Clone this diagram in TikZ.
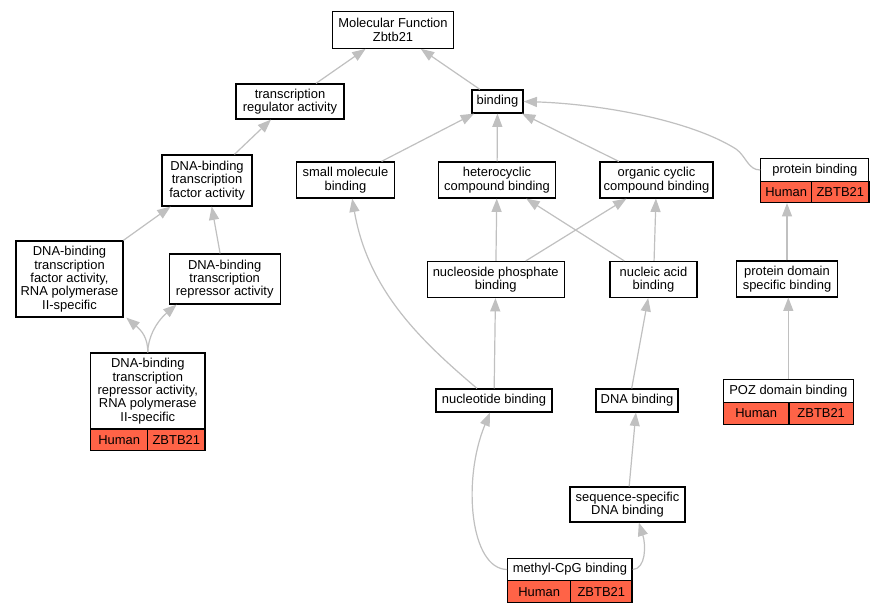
\documentclass[tikz,border=0pt]{standalone}
\usepackage{fontspec}
\setmainfont{Liberation Sans}
\usetikzlibrary{arrows.meta}
\definecolor{hum}{RGB}{255,99,71}
\definecolor{edgegray}{RGB}{192,192,192}
\newcommand\gofont{\fontsize{9.7}{10}\selectfont}
\def\px{0.75pt}
\tikzset{
  term/.style={draw, line width=0.9pt, fill=white, align=center, inner sep=0pt, font=\gofont},
  cell/.style={term, fill=hum},
  isa/.style={draw=edgegray, line width=0.9pt, -{Triangle[length=10pt,width=7.5pt]}},
}
\begin{document}
\begin{tikzpicture}[x=0.75pt, y=-0.75pt]
\useasboundingbox[fill=white] (0,0) rectangle (884,613);
% terms
\node[term, minimum width=121*\px, minimum height=37*\px] (mf) at (393,29.8) {Molecular Function\\Zbtb21};
\node[term, minimum width=108*\px, minimum height=35*\px] (tra) at (290,101.5) {transcription\\regulator activity};
\node[term, minimum width=51*\px, minimum height=23*\px] (binding) at (497.5,101.5) {binding};
\node[term, minimum width=90*\px, minimum height=51*\px] (dbtfa) at (207,180.5) {DNA-binding\\transcription\\factor activity};
\node[term, minimum width=98*\px, minimum height=36*\px] (smb) at (345.5,180) {small molecule\\binding};
\node[term, minimum width=117*\px, minimum height=36*\px] (hcb) at (497,180) {heterocyclic\\compound binding};
\node[term, minimum width=113*\px, minimum height=36*\px] (ocb) at (656.5,180) {organic cyclic\\compound binding};
\node[term, minimum width=107*\px, minimum height=76*\px] (dbtfarna) at (69.5,279) {DNA-binding\\transcription\\factor activity,\\RNA polymerase\\II-specific};
\node[term, minimum width=111*\px, minimum height=50*\px] (dbtra) at (224.7,279) {DNA-binding\\transcription\\repressor activity};
\node[term, minimum width=137*\px, minimum height=36*\px] (npb) at (495.7,279.5) {nucleoside phosphate\\binding};
\node[term, minimum width=87*\px, minimum height=36*\px] (nab) at (653.5,279.5) {nucleic acid\\binding};
\node[term, minimum width=101*\px, minimum height=36*\px] (pdsb) at (787,279) {protein domain\\specific binding};
\node[term, minimum width=116*\px, minimum height=23*\px] (nb) at (494,400.5) {nucleotide binding};
\node[term, minimum width=82*\px, minimum height=23*\px] (dnab) at (637,400.5) {DNA binding};
\node[term, minimum width=115*\px, minimum height=35*\px] (ssdb) at (627.5,504.5) {sequence-specific\\DNA binding};
% annotated terms
\node[term, minimum width=108*\px, minimum height=23*\px] (pbh) at (814.8,170) {protein binding};
\node[cell, minimum width=51*\px, minimum height=21*\px] (pbs) at (786.2,192) {Human};
\node[cell, minimum width=57.3*\px, minimum height=21*\px] (pbz) at (840.3,192) {ZBTB21};
\node[term, minimum width=114.3*\px, minimum height=76*\px] (dbtrarnah) at (147.8,391) {DNA-binding\\transcription\\repressor activity,\\RNA polymerase\\II-specific};
\node[cell, minimum width=57*\px, minimum height=21.7*\px] (dbtrarnas) at (119.2,439.9) {Human};
\node[cell, minimum width=57.3*\px, minimum height=21.7*\px] (dbtrarnaz) at (176.3,439.9) {ZBTB21};
\node[term, minimum width=130*\px, minimum height=23*\px] (pozh) at (788.3,390.8) {POZ domain binding};
\node[cell, minimum width=65.7*\px, minimum height=22*\px] (pozs) at (756.2,413.3) {Human};
\node[cell, minimum width=64.3*\px, minimum height=22*\px] (pozz) at (821.2,413.3) {ZBTB21};
\node[term, minimum width=124.3*\px, minimum height=22.4*\px] (mcgh) at (569.9,569.5) {methyl-CpG binding};
\node[cell, minimum width=63*\px, minimum height=22*\px] (mcgs) at (539.2,591.7) {Human};
\node[cell, minimum width=61.3*\px, minimum height=22*\px] (mcgz) at (601.3,591.7) {ZBTB21};
% is_a edges
\draw[isa] (tra) -- (mf);
\draw[isa] (binding) -- (mf);
\draw[isa] (dbtfa) -- (tra);
\draw[isa] (smb) -- (binding);
\draw[isa] (hcb) -- (binding);
\draw[isa] (ocb) -- (binding);
\draw[isa] (pbh.west) .. controls (748,170) and (746,156) .. (736,149) .. controls (690,120) and (600,104) .. (binding.east);
\draw[isa] (dbtfarna) -- (dbtfa);
\draw[isa] (dbtra) -- (dbtfa);
\draw[isa] (dbtrarnah.north) .. controls (147.8,338) and (142,331) .. ([xshift=2pt]dbtfarna.south east);
\draw[isa] (dbtrarnah.north) .. controls (147.8,338) and (156,322) .. ([xshift=6pt]dbtra.south west);
\draw[isa] (npb) -- (hcb);
\draw[isa] (npb) -- (ocb);
\draw[isa] (nab) -- (hcb);
\draw[isa] (nab) -- (ocb);
\draw[isa] (nb) -- (npb);
\draw[isa] ([xshift=-12.75pt]nb.north) .. controls (420,340) and (368,290) .. ([xshift=5pt]smb.south);
\draw[isa] ([xshift=-4pt]dnab.north) -- ([xshift=-4pt]nab.south);
\draw[isa] (ssdb) -- (dnab);
\draw[isa] (mcgh.west) .. controls (470,569) and (462,480) .. ([xshift=-3pt]nb.south);
\draw[isa] (mcgh.east) .. controls (646,569) and (646,545) .. ([xshift=8.5pt]ssdb.south);
\draw[isa] (pdsb) -- (pdsb |- pbz.south);
\draw[isa] (pozh) -- (pozh |- pdsb.south);
\end{tikzpicture}
\end{document}
